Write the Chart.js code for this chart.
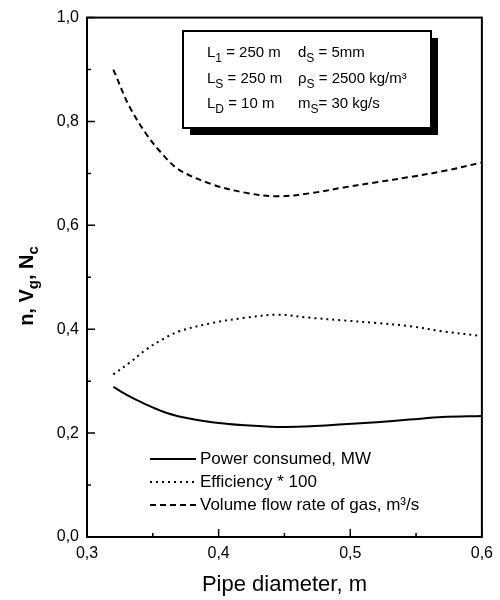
<!DOCTYPE html>
<html>
<head>
<meta charset="utf-8">
<script src="https://cdn.jsdelivr.net/npm/chart.js@4/dist/chart.umd.min.js"></script>
<style>
  body { margin: 0; background: #fff; }
  #wrap { width: 500px; height: 600px; }
</style>
</head>
<body>
<div id="wrap"><canvas id="chart" width="500" height="600"></canvas></div>
<script>
// pipe diameter (m) and the three curves
const diameters = [0.32, 0.332, 0.345, 0.357, 0.37, 0.395, 0.42, 0.445, 0.47, 0.495, 0.52, 0.545, 0.57, 0.6];
const powerConsumed = [0.289, 0.271, 0.255, 0.242, 0.232, 0.221, 0.215, 0.212, 0.213, 0.217, 0.221, 0.226, 0.231, 0.233];
const efficiency = [0.313, 0.335, 0.361, 0.380, 0.396, 0.412, 0.422, 0.428, 0.422, 0.417, 0.412, 0.406, 0.396, 0.387];
const gasFlow = [0.900, 0.830, 0.776, 0.738, 0.707, 0.679, 0.663, 0.656, 0.662, 0.673, 0.683, 0.693, 0.704, 0.721];

const seriesLabels = ['Power consumed, MW', 'Efficiency * 100', 'Volume flow rate of gas, m\u00b3/s'];
const xTitle = 'Pipe diameter, m';
const FONT = '"Liberation Sans", Arial, sans-serif';

const toPoints = ys => diameters.map((d, i) => ({ x: d, y: ys[i] }));
const comma = v => v.toFixed(1).replace('.', ',');

// draws "base" with a subscript, returns the x after it
function subText(ctx, x, y, base, sub, size) {
    ctx.font = size + 'px ' + FONT;
    ctx.fillText(base, x, y);
    x += ctx.measureText(base).width;
    ctx.font = Math.round(size * 0.78) + 'px ' + FONT;
    ctx.fillText(sub, x, y + size * 0.35);
    return x + ctx.measureText(sub).width;
}

const decorations = {
    id: 'decorations',
    afterDraw(chart) {
        const ctx = chart.ctx;
        const a = chart.chartArea;
        const xs = chart.scales.x, ys = chart.scales.y;
        ctx.save();
        ctx.strokeStyle = '#000';
        ctx.fillStyle = '#000';

        // frame
        ctx.lineWidth = 2;
        ctx.strokeRect(a.left, a.top, a.right - a.left, a.bottom - a.top);

        // inward ticks
        ctx.lineWidth = 1.5;
        ctx.beginPath();
        xs.ticks.forEach(t => {
            const px = xs.getPixelForValue(t.value);
            const len = Math.abs(t.value * 10 - Math.round(t.value * 10)) < 1e-6 ? 8 : 4;
            ctx.moveTo(px, a.bottom);
            ctx.lineTo(px, a.bottom - len);
        });
        ys.ticks.forEach(t => {
            const py = ys.getPixelForValue(t.value);
            const len = Math.round(t.value * 10) % 2 === 0 ? 8 : 4;
            ctx.moveTo(a.left, py);
            ctx.lineTo(a.left + len, py);
        });
        ctx.stroke();

        // y axis title with subscripts
        ctx.save();
        ctx.translate(27, 286);
        ctx.rotate(-Math.PI / 2);
        ctx.textBaseline = 'middle';
        const parts = [['n, ', ''], ['V', 'g'], [', ', ''], ['N', 'c']];
        let w = 0;
        parts.forEach(p => {
            ctx.font = 'bold 20px ' + FONT;
            w += ctx.measureText(p[0]).width;
            ctx.font = 'bold 15px ' + FONT;
            w += ctx.measureText(p[1]).width;
        });
        let x = -w / 2;
        parts.forEach(p => {
            ctx.font = 'bold 20px ' + FONT;
            ctx.fillText(p[0], x, 0);
            x += ctx.measureText(p[0]).width;
            if (p[1]) {
                ctx.font = 'bold 15px ' + FONT;
                ctx.fillText(p[1], x, 7);
                x += ctx.measureText(p[1]).width;
            }
        });
        ctx.restore();

        // legend inside the plot
        const dashes = [[], [2, 4], [6, 4]];
        const rows = [459, 482, 505];
        ctx.font = '17px ' + FONT;
        ctx.textBaseline = 'middle';
        seriesLabels.forEach((label, i) => {
            ctx.lineWidth = 2;
            ctx.setLineDash(dashes[i]);
            ctx.beginPath();
            ctx.moveTo(150, rows[i]);
            ctx.lineTo(196, rows[i]);
            ctx.stroke();
            ctx.setLineDash([]);
            ctx.fillText(label, 200, rows[i]);
        });

        // parameter box with drop shadow
        const bx = 183, by = 31, bw = 248, bh = 97;
        ctx.fillRect(bx + 7, by + 7, bw, bh);
        ctx.fillStyle = '#fff';
        ctx.fillRect(bx, by, bw, bh);
        ctx.lineWidth = 2;
        ctx.strokeRect(bx, by, bw, bh);
        ctx.fillStyle = '#000';
        ctx.textBaseline = 'middle';
        const params = [
            [['L', '1', ' = 250 m'], ['d', 'S', ' = 5mm']],
            [['L', 'S', ' = 250 m'], ['\u03c1', 'S', ' = 2500 kg/m\u00b3']],
            [['L', 'D', ' = 10 m'], ['m', 'S', '= 30 kg/s']]
        ];
        const lineY = [53, 79, 104];
        params.forEach((row, i) => {
            [207, 298].forEach((cx, j) => {
                const [base, sub, rest] = row[j];
                const nx = subText(ctx, cx, lineY[i], base, sub, 15);
                ctx.font = '15px ' + FONT;
                ctx.fillText(rest, nx, lineY[i]);
            });
        });
        ctx.restore();
    }
};

const ds = (label, data, dash) => ({
    label,
    data: toPoints(data),
    borderColor: '#000',
    borderWidth: 2,
    borderDash: dash,
    pointRadius: 0,
    fill: false,
    tension: 0.35
});

new Chart(document.getElementById('chart').getContext('2d'), {
    type: 'line',
    data: {
        datasets: [
            ds(seriesLabels[0], powerConsumed, []),
            ds(seriesLabels[1], efficiency, [2, 4]),
            ds(seriesLabels[2], gasFlow, [6, 4])
        ]
    },
    options: {
        responsive: false,
        animation: false,
        layout: { padding: { top: 16, right: 12, left: 0, bottom: 0 } },
        plugins: { legend: { display: false }, tooltip: { enabled: false } },
        scales: {
            x: {
                type: 'linear',
                min: 0.3,
                max: 0.6,
                grid: { display: false, drawTicks: false },
                border: { display: false },
                afterFit: s => { s.height = 63; },
                ticks: {
                    stepSize: 0.05,
                    autoSkip: false,
                    maxRotation: 0,
                    padding: 7,
                    color: '#000',
                    font: { family: FONT, size: 16 },
                    callback: v => Math.abs(v * 10 - Math.round(v * 10)) < 1e-6 ? comma(v) : ''
                },
                title: {
                    display: true,
                    text: xTitle,
                    color: '#000',
                    font: { family: FONT, size: 22 },
                    padding: { top: 8, bottom: 2 }
                }
            },
            y: {
                min: 0,
                max: 1,
                grid: { display: false, drawTicks: false },
                border: { display: false },
                afterFit: s => { s.width = 87; },
                ticks: {
                    stepSize: 0.1,
                    autoSkip: false,
                    padding: 8,
                    color: '#000',
                    font: { family: FONT, size: 16 },
                    callback: v => Math.round(v * 10) % 2 === 0 ? comma(v) : ''
                }
            }
        }
    },
    plugins: [decorations]
});
</script>
</body>
</html>
